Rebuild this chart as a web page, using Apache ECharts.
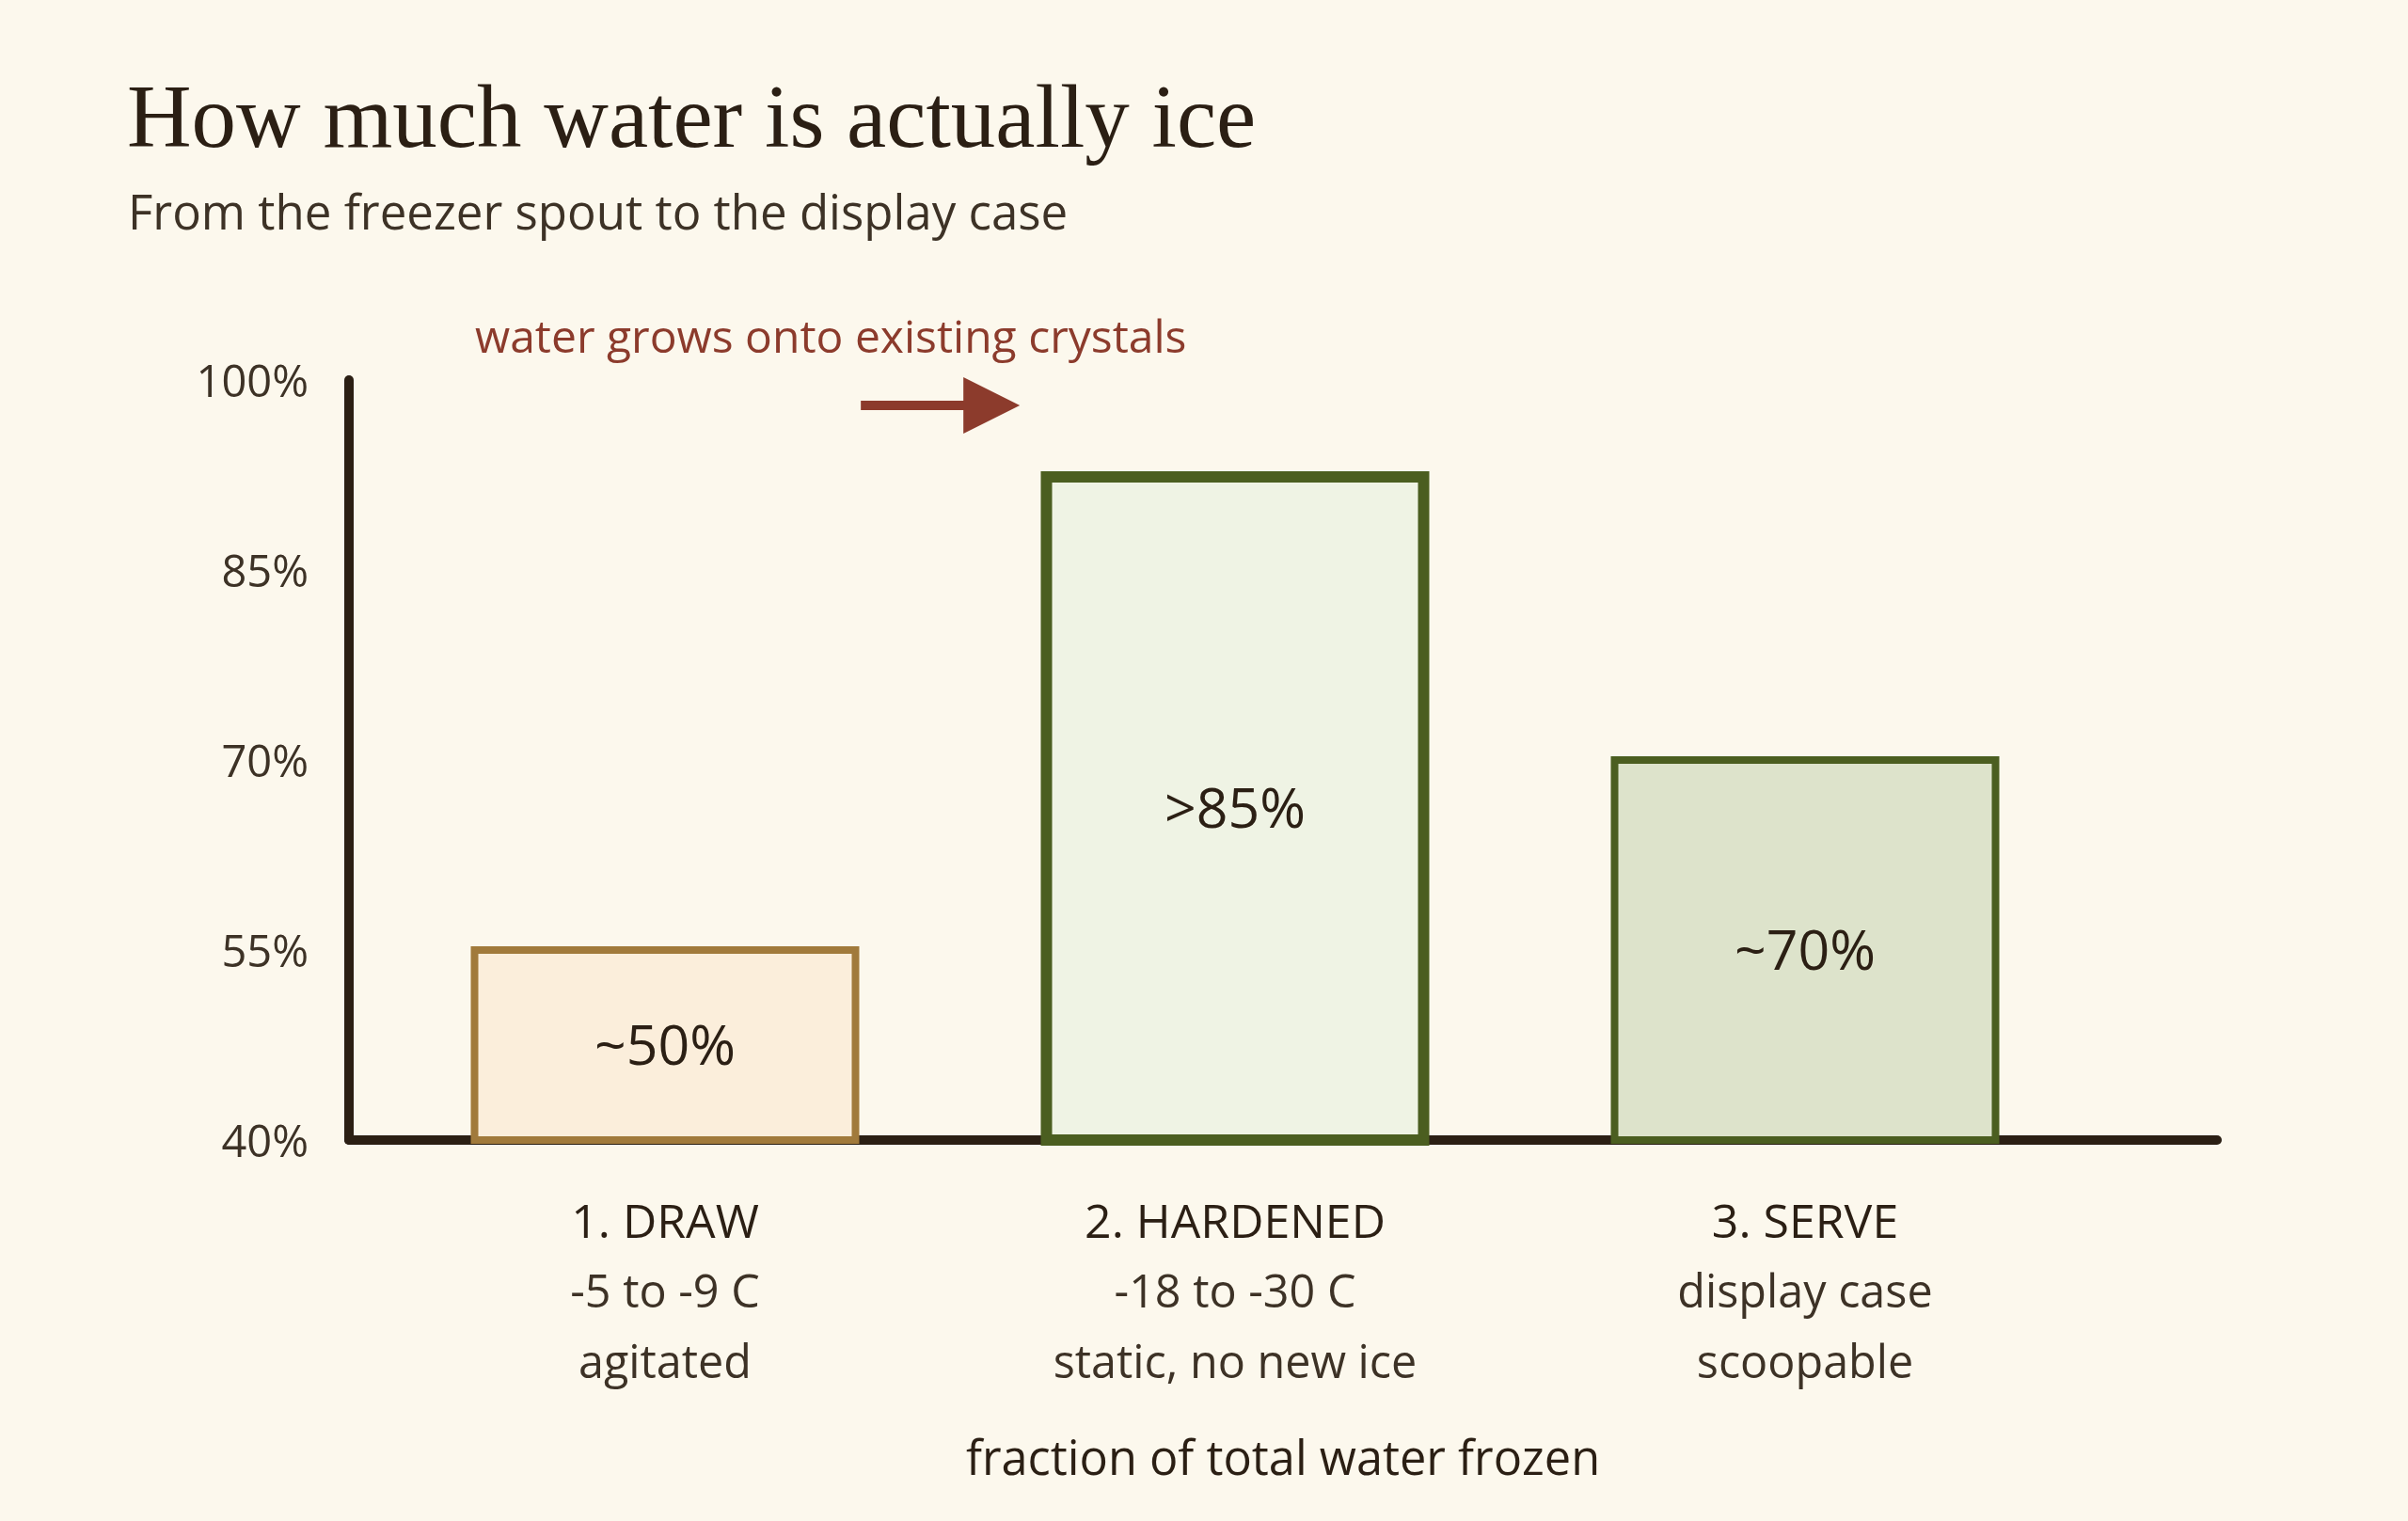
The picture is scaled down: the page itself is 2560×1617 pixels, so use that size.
<!DOCTYPE html>
<html>
<head>
<meta charset="utf-8">
<script src="https://cdn.jsdelivr.net/npm/echarts@6/dist/echarts.min.js"></script>
<style>
  html, body { margin: 0; padding: 0; background: #fcf8ed; }
  #chart { width: 2560px; height: 1617px; }
</style>
</head>
<body>
<div id="chart"></div>
<script>
const STAGES = ['1. DRAW', '2. HARDENED', '3. SERVE']
const STAGE_TEMPS = ['-5 to -9 C', '-18 to -30 C', 'display case']
const STAGE_NOTES = ['agitated', 'static, no new ice', 'scoopable']
const FROZEN = [55.3, 92.8, 70.3]
const VALUE_LABELS = ['~50%', '>85%', '~70%']
const Y_TICKS = [40, 55, 70, 85, 100]

const BAR_STYLES = [
  { fill: '#fbeedb', border: '#a17a3b', width: 8 },
  { fill: '#eff3e4', border: '#4b5e20', width: 12 },
  { fill: '#dde3cb', border: '#4b5e20', width: 8 },
]

const ARROW_FROM = [0.274, 98]
const ARROW_TO = [0.344, 98]

const ink = '#2b1f14'
const soft = '#3d3226'
const rust = '#8c3b2c'
const sans = '"Open Sans", "Noto Sans", sans-serif'

const chart = echarts.init(document.getElementById('chart'))

chart.setOption({
  backgroundColor: '#fcf8ed',
  animation: false,
  title: [
    {
      text: 'How much water is actually ice',
      left: 135, top: 84, padding: 0,
      textStyle: { fontFamily: '"Liberation Serif", serif', fontSize: 95, fontWeight: 'normal', color: ink },
    },
    {
      text: 'From the freezer spout to the display case',
      left: 136, top: 204, padding: 0,
      textStyle: { fontFamily: sans, fontSize: 51, fontWeight: 'normal', color: soft },
    },
  ],
  graphic: [
    {
      type: 'text', left: 505, top: 337,
      style: { text: 'water grows onto existing crystals', font: '48px ' + sans, fill: rust },
    },
  ],
  grid: [
    { left: 404, right: 338, top: 404, bottom: 405, outerBoundsMode: 'none' },
    { left: 371, right: 203, top: 404, bottom: 405, outerBoundsMode: 'none' },
  ],
  xAxis: [
    {
      type: 'category',
      gridIndex: 0,
      data: STAGES,
      axisLine: { show: false },
      axisTick: { show: false },
      axisLabel: {
        margin: 52,
        interval: 0,
        formatter(value, index) {
          return `{a|${value}}\n{b|${STAGE_TEMPS[index]}}\n{b|${STAGE_NOTES[index]}}`
        },
        rich: {
          a: { fontFamily: sans, fontSize: 50, color: ink, lineHeight: 75 },
          b: { fontFamily: sans, fontSize: 48.5, color: soft, lineHeight: 75 },
        },
      },
    },
    {
      type: 'value',
      gridIndex: 1,
      min: 0,
      max: 1,
      axisLine: { show: true, lineStyle: { color: ink, width: 10 } },
      axisTick: { show: false },
      axisLabel: { show: false },
      splitLine: { show: false },
      name: 'fraction of total water frozen',
      nameLocation: 'middle',
      nameGap: 316,
      nameTextStyle: { fontFamily: sans, fontSize: 50.5, color: ink },
    },
  ],
  yAxis: [
    {
      type: 'value', gridIndex: 0, min: 40, max: 100, show: false,
    },
    {
      type: 'value',
      gridIndex: 1,
      min: 40,
      max: 100,
      interval: 15,
      axisLine: { show: true, lineStyle: { color: ink, width: 10 } },
      axisTick: { show: false },
      splitLine: { show: false },
      axisLabel: {
        margin: 43,
        customValues: Y_TICKS,
        formatter: v => `{t|${v}%}`,
        rich: {
          t: { fontFamily: sans, fontSize: 47, color: soft, padding: [10, 0, 0, 0] },
        },
      },
    },
  ],
  series: [
    {
      type: 'bar',
      xAxisIndex: 0,
      yAxisIndex: 0,
      barWidth: 413,
      z: 5,
      emphasis: { disabled: true },
      data: FROZEN.map((v, i) => ({
        value: v,
        itemStyle: {
          color: BAR_STYLES[i].fill,
          borderColor: BAR_STYLES[i].border,
          borderWidth: BAR_STYLES[i].width,
        },
      })),
      label: {
        show: true,
        position: 'inside',
        offset: [0, 4],
        fontFamily: sans,
        fontSize: 59,
        color: ink,
        formatter: p => VALUE_LABELS[p.dataIndex],
      },
    },
    {
      type: 'line',
      xAxisIndex: 1,
      yAxisIndex: 1,
      data: [],
      markLine: {
        silent: true,
        animation: false,
        symbol: ['none', 'triangle'],
        symbolSize: [60, 60],
        label: { show: false },
        lineStyle: { color: rust, width: 10, type: 'solid' },
        emphasis: { disabled: true },
        data: [[{ coord: ARROW_FROM }, { coord: ARROW_TO }]],
      },
    },
  ],
})
</script>
</body>
</html>
